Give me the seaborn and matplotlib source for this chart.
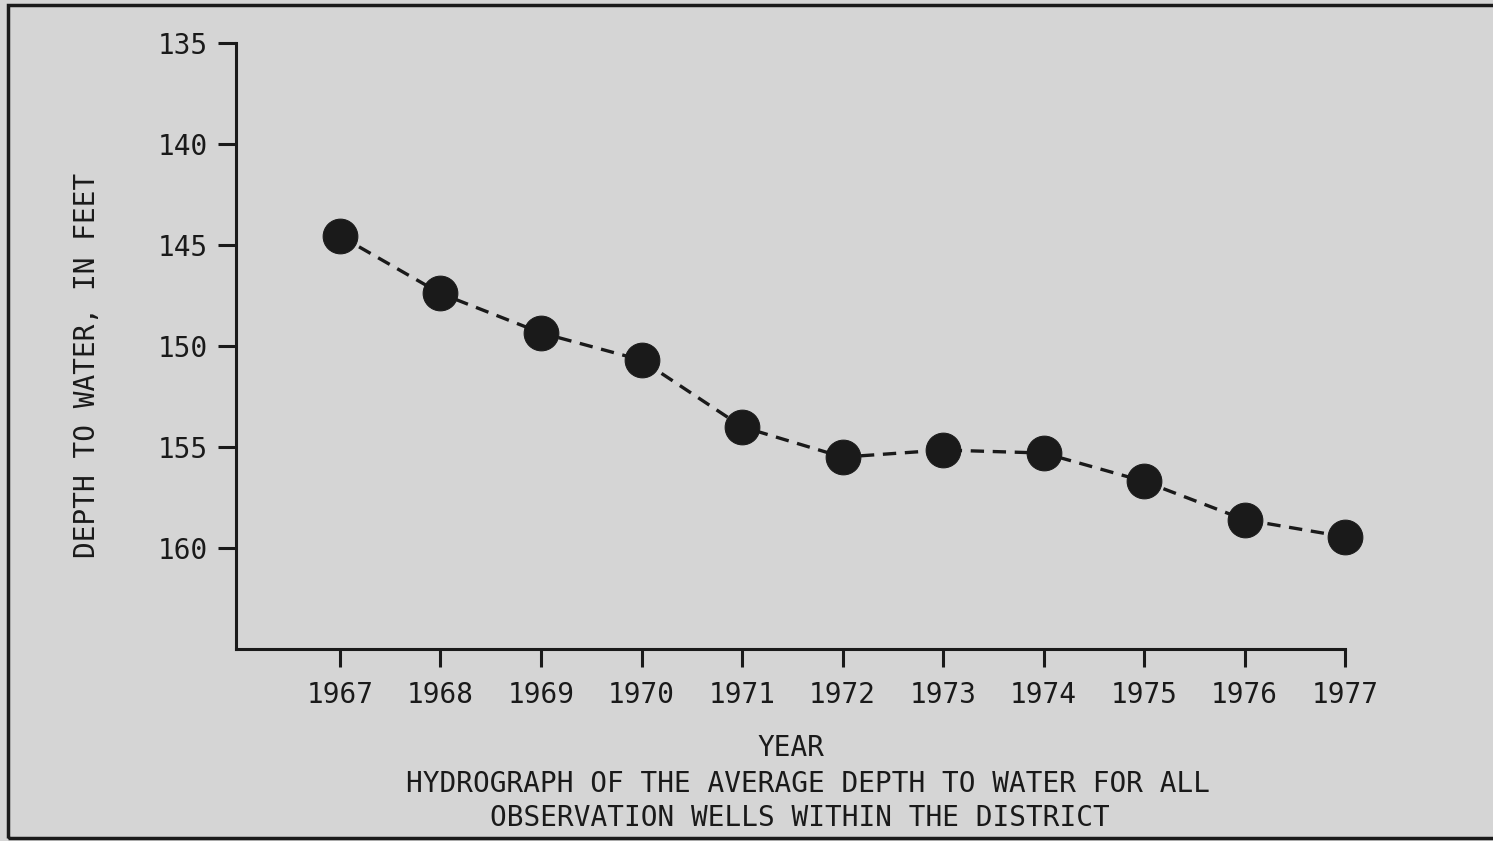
import matplotlib
matplotlib.use("Agg")
import matplotlib.pyplot as plt
import seaborn as sns
import pandas as pd
from matplotlib.patches import Rectangle

sns.set_theme(style="white")
plt.rcParams['font.family'] = ['DejaVu Sans Mono', 'DejaVu Sans']

# average depth to water
years = [1967, 1968, 1969, 1970, 1971, 1972, 1973, 1974, 1975, 1976, 1977]
depth_ft = [144.55, 147.4, 149.35, 150.7, 154.0, 155.5, 155.15, 155.3, 156.7, 158.6, 159.45]
y_ticks = [135, 140, 145, 150, 155, 160]

paper = "#d5d5d5"
ink = "#1a1a1a"

data = pd.DataFrame({"Year": years, "Depth": depth_ft})

fig = plt.figure(figsize=(14.93, 8.41), dpi=100, facecolor=paper)
ax = fig.add_axes([0.158, 0.2283, 0.743, 0.7206])
ax.set_facecolor(paper)

sns.lineplot(x="Year", y="Depth", data=data, color=ink, linewidth=2.4,
             linestyle=(0, (4, 2.6)), marker="o", markersize=25,
             markeredgecolor=ink, markerfacecolor=ink, ax=ax)
for ln in ax.lines:
    ln.set_clip_on(False)

ax.set_xlim(1965.965, 1977)
ax.set_ylim(165, 135)
ax.set_xticks(years)
ax.set_xticklabels([str(y) for y in years])
ax.set_yticks(y_ticks)

for side in ["top", "right"]:
    ax.spines[side].set_visible(False)
for side in ["left", "bottom"]:
    ax.spines[side].set_color(ink)
    ax.spines[side].set_linewidth(2.2)

ax.tick_params(axis="y", direction="out", length=13, width=2.2, color=ink,
               pad=7, labelsize=20, labelcolor=ink, left=True)
ax.tick_params(axis="x", direction="out", length=13, width=2.2, color=ink,
               pad=10, labelsize=20, labelcolor=ink, bottom=True)

ax.set_xlabel("YEAR", fontsize=20, color=ink, labelpad=18)
ax.set_ylabel("")
fig.text(0.058, 0.565, "DEPTH TO WATER, IN FEET", rotation=90, fontsize=20,
         color=ink, ha="center", va="center")

fig.text(0.541, 0.068, "HYDROGRAPH OF THE AVERAGE DEPTH TO WATER FOR ALL",
         fontsize=20, color=ink, ha="center", va="center")
fig.text(0.536, 0.027, "OBSERVATION WELLS WITHIN THE DISTRICT",
         fontsize=20, color=ink, ha="center", va="center")

# frame around the figure
fig.patches.append(Rectangle((0.0055, 0.003), 1.2, 0.991, transform=fig.transFigure,
                             fill=False, edgecolor=ink, linewidth=2.5))

fig.savefig("out.png", dpi=100, facecolor=paper)
